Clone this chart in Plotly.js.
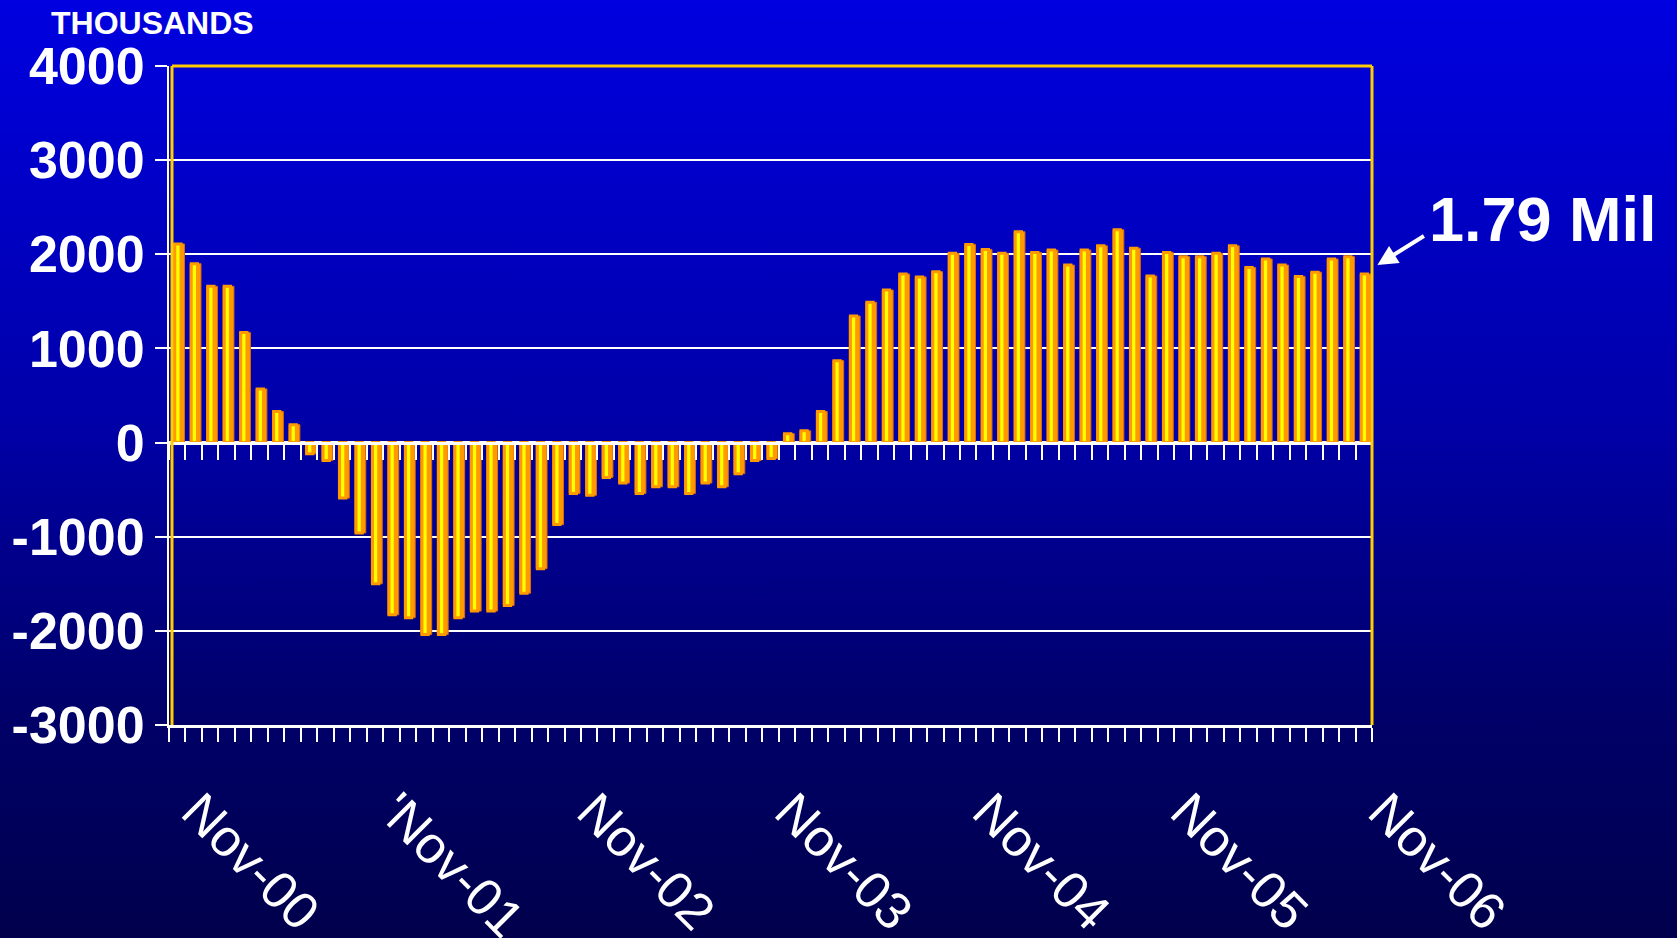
<!DOCTYPE html>
<html>
<head>
<meta charset="utf-8">
<script src="https://cdn.plot.ly/plotly-3.0.1.min.js"></script>
<style>
  html, body { margin: 0; padding: 0; }
  body { width: 1677px; height: 938px; overflow: hidden;
         background: linear-gradient(to bottom, #0000E0 0%, #0000A8 45%, #00006A 75%, #00004C 100%); }
  #chart { width: 1677px; height: 938px; }
</style>
</head>
<body>
<div id="chart"></div>
<script>
// Monthly categories, Nov-00 .. Nov-06
const months = [
  "Nov-00","Dec-00",
  "Jan-01","Feb-01","Mar-01","Apr-01","May-01","Jun-01","Jul-01","Aug-01","Sep-01","Oct-01","Nov-01","Dec-01",
  "Jan-02","Feb-02","Mar-02","Apr-02","May-02","Jun-02","Jul-02","Aug-02","Sep-02","Oct-02","Nov-02","Dec-02",
  "Jan-03","Feb-03","Mar-03","Apr-03","May-03","Jun-03","Jul-03","Aug-03","Sep-03","Oct-03","Nov-03","Dec-03",
  "Jan-04","Feb-04","Mar-04","Apr-04","May-04","Jun-04","Jul-04","Aug-04","Sep-04","Oct-04","Nov-04","Dec-04",
  "Jan-05","Feb-05","Mar-05","Apr-05","May-05","Jun-05","Jul-05","Aug-05","Sep-05","Oct-05","Nov-05","Dec-05",
  "Jan-06","Feb-06","Mar-06","Apr-06","May-06","Jun-06","Jul-06","Aug-06","Sep-06","Oct-06","Nov-06"
];

// Change in thousands
const values = [
  2110, 1900,
  1660, 1660, 1170, 570, 330, 190, -120, -190, -590, -960, -1500, -1830,
  -1860, -2040, -2040, -1860, -1790, -1790, -1730, -1600, -1340, -870, -540, -560,
  -370, -430, -540, -470, -470, -540, -430, -470, -330, -190, -170, 95,
  125, 330, 870, 1345, 1490, 1620, 1790, 1760, 1815, 2010, 2105, 2050,
  2010, 2240, 2020, 2045, 1885, 2045, 2090, 2260, 2065, 1770, 2020, 1975,
  1975, 2010, 2090, 1860, 1950, 1885, 1765, 1810, 1950, 1975, 1790
];

// Labelled categories on the x axis
const labelCats = ["Nov-00","Nov-01","Nov-02","Nov-03","Nov-04","Nov-05","Nov-06"];
const labelText = ["Nov-00","'Nov-01","Nov-02","Nov-03","Nov-04","Nov-05","Nov-06"];

// Y axis ticks
const yTickVals = [-3000, -2000, -1000, 0, 1000, 2000, 3000, 4000];
const yTickText = ["-3000", "-2000", "-1000", "0", "1000", "2000", "3000", "4000"];

const annotationLabel = "1.79 Mil";
const unitLabel = "THOUSANDS";

const xTickText = months.map(m => {
  const i = labelCats.indexOf(m);
  return i >= 0 ? labelText[i] : "";
});

const FONT = "Liberation Sans, Arial, Helvetica, sans-serif";
const WHITE = "#FFFFFF";
const GOLD = "#FFCC00";

const traces = [
  { // orange body (side / edges)
    type: "bar", x: months, y: values, xaxis: "x", yaxis: "y",
    marker: { color: "#FF9900", line: { width: 1, color: "#D86A10" } },
    width: 0.66, offset: -0.22,
    hoverinfo: "x+y", showlegend: false
  },
  { // yellow face with orange cap
    type: "bar", x: months, y: values, xaxis: "x2", yaxis: "y",
    marker: { color: "#FFFF00", line: { width: 3, color: "#FF9900" } },
    width: 0.38, offset: -0.15,
    hoverinfo: "skip", showlegend: false
  }
];

const layout = {
  width: 1677, height: 938,
  margin: { l: 169, r: 305, t: 66, b: 213, pad: 0 },
  paper_bgcolor: "rgba(0,0,0,0)",
  plot_bgcolor: "rgba(0,0,0,0)",
  font: { family: FONT, color: WHITE },
  barmode: "overlay",
  showlegend: false,
  xaxis: {
    type: "category", categoryorder: "array", categoryarray: months,
    range: [-0.5, months.length - 0.5],
    tickmode: "array", tickvals: months, ticktext: xTickText,
    tickson: "boundaries",
    ticks: "outside", ticklen: 14, tickwidth: 2, tickcolor: WHITE,
    tickangle: 45,
    ticklabelstandoff: 32,
    ticklabelshift: 20,
    tickfont: { family: FONT, size: 52, color: WHITE },
    showline: true, linecolor: WHITE, linewidth: 3,
    showgrid: false, zeroline: false, fixedrange: true
  },
  xaxis2: {
    type: "category", categoryorder: "array", categoryarray: months,
    range: [-0.5, months.length - 0.5],
    overlaying: "x", anchor: "free", position: 3 / 7, side: "bottom",
    tickmode: "array", tickvals: months, ticktext: months.map(() => ""),
    tickson: "boundaries",
    ticks: "outside", ticklen: 15, tickwidth: 2, tickcolor: WHITE,
    showticklabels: false,
    showline: true, linecolor: WHITE, linewidth: 3,
    showgrid: false, zeroline: false, fixedrange: true
  },
  yaxis: {
    range: [-3000, 4000],
    tickmode: "array", tickvals: yTickVals, ticktext: yTickText,
    ticks: "outside", ticklen: 12, tickwidth: 2, tickcolor: WHITE,
    tickfont: { family: FONT, size: 52, color: WHITE, weight: "bold" },
    showline: true, linecolor: WHITE, linewidth: 2,
    showgrid: true, gridcolor: WHITE, gridwidth: 2,
    zeroline: true, zerolinecolor: WHITE, zerolinewidth: 3,
    fixedrange: true
  },
  shapes: [
    { type: "line", xref: "paper", yref: "paper", x0: 0.0025, x1: 0.0025, y0: 0, y1: 1,
      line: { color: GOLD, width: 3 } },
    { type: "line", xref: "paper", yref: "paper", x0: 0.0025, x1: 1, y0: 1, y1: 1,
      line: { color: GOLD, width: 3 } },
    { type: "line", xref: "paper", yref: "paper", x0: 1, x1: 1, y0: 0, y1: 1,
      line: { color: GOLD, width: 3 } }
  ],
  annotations: [
    { text: "<b>" + unitLabel + "</b>", xref: "paper", yref: "paper",
      x: -0.1, y: 1.066, xanchor: "left", yanchor: "middle", showarrow: false,
      font: { family: FONT, size: 32, color: WHITE } },
    { text: "<b>" + annotationLabel + "</b>", xref: "paper", yref: "paper",
      x: 1.1425, y: 0.768, xanchor: "center", yanchor: "middle", showarrow: false,
      font: { family: FONT, size: 63, color: WHITE } },
    { text: "", xref: "paper", yref: "paper",
      x: 1.0045, y: 0.698, showarrow: true, ax: 48, ay: -30,
      arrowhead: 2, arrowsize: 1, arrowwidth: 4, arrowcolor: WHITE }
  ]
};

Plotly.newPlot("chart", traces, layout, { displayModeBar: false, staticPlot: true });
</script>
</body>
</html>
